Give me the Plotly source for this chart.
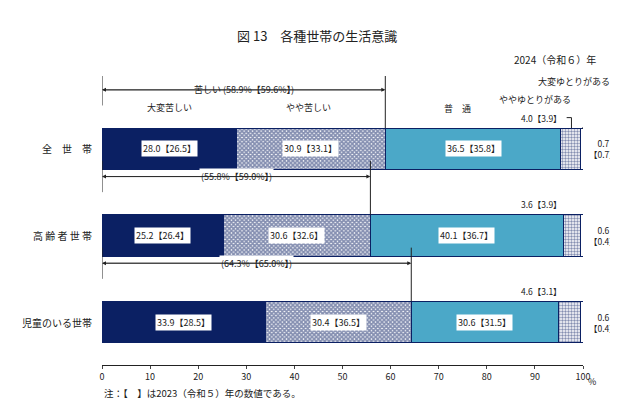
import plotly.graph_objects as go

rows = ["全　世　帯", "高 齢 者 世 帯", "児童のいる世帯"]
ypos = [2, 1, 0]
very_hard = [28.0, 25.2, 33.9]
some_hard = [30.9, 30.6, 30.4]
normal = [36.5, 40.1, 30.6]
some_easy = [4.0, 3.6, 4.6]
very_easy = [0.7, 0.6, 0.6]
prev_very_hard = [26.5, 26.4, 28.5]
prev_some_hard = [33.1, 32.6, 36.5]
prev_normal = [35.8, 36.7, 31.5]
prev_some_easy = [3.9, 3.9, 3.1]
prev_very_easy = [0.7, 0.4, 0.4]
hard_total = [58.9, 55.8, 64.3]
prev_hard_total = [59.6, 59.0, 65.0]

NAVY = "#0b2063"
F = "Noto Sans CJK JP"
fig = go.Figure()
W = 0.48
fig.add_bar(y=ypos, x=very_hard, orientation="h", width=W, marker=dict(color=NAVY, line=dict(color=NAVY, width=1)))
fig.add_bar(y=ypos, x=some_hard, orientation="h", width=W,
            marker=dict(color="white", line=dict(color=NAVY, width=1),
                        pattern=dict(shape="x", fgcolor=NAVY, bgcolor="white", size=3, solidity=0.8)))
fig.add_bar(y=ypos, x=normal, orientation="h", width=W, marker=dict(color="#4ba8c8", line=dict(color=NAVY, width=1)))
fig.add_bar(y=ypos, x=some_easy, orientation="h", width=W,
            marker=dict(color="white", line=dict(color=NAVY, width=1),
                        pattern=dict(shape=".", fgcolor=NAVY, bgcolor="white", size=3, solidity=0.5)))
fig.add_bar(y=ypos, x=very_easy, orientation="h", width=W, marker=dict(color="white", line=dict(color=NAVY, width=1)))

ann = []
def A(x, y, t, **k):
    d = dict(x=x, y=y, text=t, showarrow=False, font=dict(family=F, size=9, color="#222"))
    d.update(k); ann.append(d)

for i, y in enumerate(ypos):
    A(very_hard[i]/2, y, f"{very_hard[i]:.1f}【{prev_very_hard[i]:.1f}】", bgcolor="white")
    A(very_hard[i]+some_hard[i]/2, y, f"{some_hard[i]:.1f}【{prev_some_hard[i]:.1f}】", bgcolor="white")
    A(very_hard[i]+some_hard[i]+normal[i]/2, y, f"{normal[i]:.1f}【{prev_normal[i]:.1f}】", bgcolor="white")
    A(579/618, y, f"{very_easy[i]:.1f}<br>【{prev_very_easy[i]:.1f}】", xref="paper", xanchor="left",
      font=dict(family=F, size=8.5, color="#222"))
    A(96, y+0.36, f"{some_easy[i]:.1f}【{prev_some_easy[i]:.1f}】", xanchor="right", font=dict(family=F, size=8.5, color="#222"))
    lab = ("苦しい " if i == 0 else "") + f"({hard_total[i]:.1f}%【{prev_hard_total[i]:.1f}%】)"
    A(hard_total[i]/2, y+0.68, lab, bgcolor="white")
    ann.append(dict(x=0, y=y+0.68, ax=hard_total[i], ay=y+0.68, xref="x", yref="y", axref="x", ayref="y",
                    showarrow=True, arrowhead=2, arrowsize=1, arrowwidth=0.8, text="", arrowcolor="#222"))
    ann.append(dict(x=hard_total[i], y=y+0.68, ax=0, ay=y+0.68, xref="x", yref="y", axref="x", ayref="y",
                    showarrow=True, arrowhead=2, arrowsize=1, arrowwidth=0.8, text="", arrowcolor="#222"))
    A(86/618, y, rows[i], xref="paper", xanchor="right", font=dict(family=F, size=10, color="#222"))

A(14, 2.48, "大変苦しい"); A(43, 2.48, "やや苦しい"); A(74, 2.46, "普　通")
A(90, 2.57, "ややゆとりがある"); A(604/618, 2.78, "大変ゆとりがある", xref="paper", xanchor="right")

shapes = []
for i, y in enumerate(ypos):
    shapes.append(dict(type="line", x0=hard_total[i], x1=hard_total[i], y0=y+0.24, y1=y+0.86, line=dict(color="#222", width=1)))
    shapes.append(dict(type="line", x0=0, x1=0, y0=y+0.5, y1=y+0.86, line=dict(color="#222", width=1)))
shapes.append(dict(type="line", x0=96.6, x1=97.6, y0=2.36, y1=2.36, line=dict(color="#222", width=1)))
shapes.append(dict(type="line", x0=97.6, x1=97.6, y0=2.36, y1=2.24, line=dict(color="#222", width=1)))
shapes.append(dict(type="line", x0=99.8, x1=100.6, y0=2.24, y1=2.24, line=dict(color="#222", width=1)))
shapes.append(dict(type="line", x0=100.6, x1=100.6, y0=2.24, y1=2.7, line=dict(color="#222", width=1)))

fig.update_layout(
    barmode="stack", showlegend=False, width=618, height=413, plot_bgcolor="white", paper_bgcolor="white",
    margin=dict(l=0, r=0, t=0, b=0), annotations=ann, shapes=shapes,
    font=dict(family=F, size=9, color="#222"),
    xaxis=dict(domain=[94/618, 575/618], range=[0, 100], tickvals=list(range(0, 101, 10)), ticks="outside",
               ticklen=3, showline=True, linecolor="#222", showgrid=False, zeroline=False, fixedrange=True,
               tickfont=dict(size=9), automargin=False),
    yaxis=dict(domain=[1-357/413, 1-68/413], range=[-0.494, 2.84], visible=False, fixedrange=True, automargin=False),
)
fig.add_annotation(xref="paper", yref="paper", x=0.5, y=1-16/413, text="図 13　各種世帯の生活意識", showarrow=False,
                   font=dict(family=F, size=13, color="#222"))
fig.add_annotation(xref="paper", yref="paper", x=0.955, y=1-42/413, text="2024（令和６）年", showarrow=False,
                   xanchor="right", font=dict(family=F, size=10, color="#222"))
fig.add_annotation(xref="paper", yref="paper", x=0.955, y=1-382/413, text="%", showarrow=False,
                   font=dict(family=F, size=9, color="#222"))
fig.add_annotation(xref="paper", yref="paper", x=94/618, y=1-394/413, text="注：【　】は2023（令和５）年の数値である。",
                   showarrow=False, xanchor="left", font=dict(family=F, size=9.5, color="#222"))
fig.write_html("out.html")
